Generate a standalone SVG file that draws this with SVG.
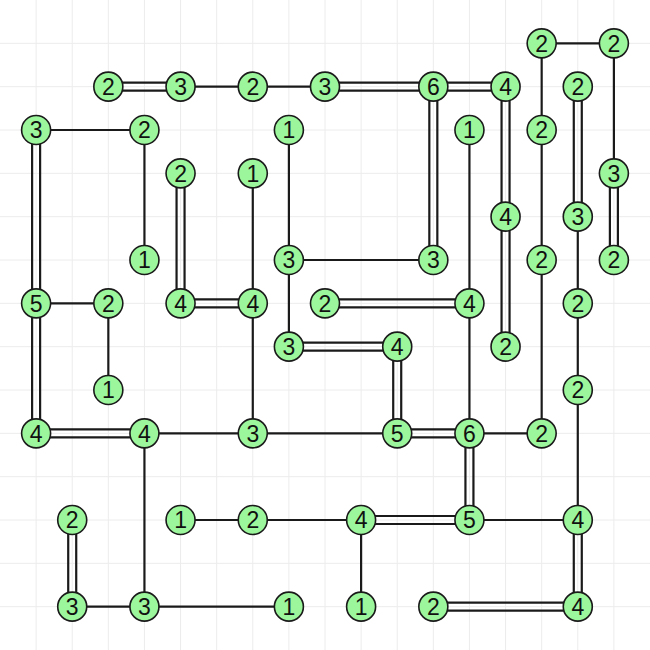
<svg xmlns="http://www.w3.org/2000/svg" width="650" height="650" viewBox="0 0 650 650">
<style>
.grid{stroke:#ececec;stroke-width:1;fill:none}
.b{stroke:#1a1a1a;stroke-width:2.2;fill:none}
.node circle{fill:#9cf79c;stroke:#1a1a1a;stroke-width:1.6}
.node text{font-family:"Liberation Sans",Arial,sans-serif;font-size:23px;fill:#111;text-anchor:middle}
</style>
<rect width="650" height="650" fill="#fff"/>
<path class="grid" d="M36.11 0V650M72.22 0V650M108.33 0V650M144.44 0V650M180.56 0V650M216.67 0V650M252.78 0V650M288.89 0V650M325 0V650M361.11 0V650M397.22 0V650M433.33 0V650M469.44 0V650M505.56 0V650M541.67 0V650M577.78 0V650M613.89 0V650M0 43.33H650M0 86.67H650M0 130H650M0 173.33H650M0 216.67H650M0 260H650M0 303.33H650M0 346.67H650M0 390H650M0 433.33H650M0 476.67H650M0 520H650M0 563.33H650M0 606.67H650"/>
<g id="connectors" class="b">
<path d="M541.67 43.33H613.89"/>
<path d="M36.11 130H144.44"/>
<path d="M108.33 82.67H180.56M108.33 90.67H180.56"/>
<path d="M180.56 86.67H252.78"/>
<path d="M252.78 86.67H325"/>
<path d="M325 82.67H433.33M325 90.67H433.33"/>
<path d="M433.33 82.67H505.56M433.33 90.67H505.56"/>
<path d="M288.89 260H433.33"/>
<path d="M180.56 299.33H252.78M180.56 307.33H252.78"/>
<path d="M36.11 303.33H108.33"/>
<path d="M325 299.33H469.44M325 307.33H469.44"/>
<path d="M288.89 342.67H397.22M288.89 350.67H397.22"/>
<path d="M36.11 429.33H144.44M36.11 437.33H144.44"/>
<path d="M144.44 433.33H252.78"/>
<path d="M252.78 433.33H397.22"/>
<path d="M397.22 429.33H469.44M397.22 437.33H469.44"/>
<path d="M469.44 433.33H541.67"/>
<path d="M180.56 520H252.78"/>
<path d="M252.78 520H361.11"/>
<path d="M361.11 516H469.44M361.11 524H469.44"/>
<path d="M469.44 520H577.78"/>
<path d="M72.22 606.67H144.44"/>
<path d="M144.44 606.67H288.89"/>
<path d="M433.33 602.67H577.78M433.33 610.67H577.78"/>
<path d="M541.67 43.33V130"/>
<path d="M541.67 130V260"/>
<path d="M541.67 260V433.33"/>
<path d="M613.89 43.33V173.33"/>
<path d="M609.89 173.33V260M617.89 173.33V260"/>
<path d="M429.33 86.67V260M437.33 86.67V260"/>
<path d="M501.56 86.67V216.67M509.56 86.67V216.67"/>
<path d="M501.56 216.67V346.67M509.56 216.67V346.67"/>
<path d="M573.78 86.67V216.67M581.78 86.67V216.67"/>
<path d="M577.78 216.67V303.33"/>
<path d="M577.78 303.33V390"/>
<path d="M577.78 390V520"/>
<path d="M573.78 520V606.67M581.78 520V606.67"/>
<path d="M32.11 130V303.33M40.11 130V303.33"/>
<path d="M32.11 303.33V433.33M40.11 303.33V433.33"/>
<path d="M144.44 130V260"/>
<path d="M176.56 173.33V303.33M184.56 173.33V303.33"/>
<path d="M252.78 173.33V303.33"/>
<path d="M252.78 303.33V433.33"/>
<path d="M288.89 130V260"/>
<path d="M288.89 260V346.67"/>
<path d="M469.44 130V303.33"/>
<path d="M469.44 303.33V433.33"/>
<path d="M393.22 346.67V433.33M401.22 346.67V433.33"/>
<path d="M465.44 433.33V520M473.44 433.33V520"/>
<path d="M108.33 303.33V390"/>
<path d="M144.44 433.33V606.67"/>
<path d="M68.22 520V606.67M76.22 520V606.67"/>
<path d="M361.11 520V606.67"/>
</g>
<g id="nodes">
<g id="n15-1" class="node" transform="translate(541.67,43.33)"><circle r="14.5"/><text y="8.2">2</text></g>
<g id="n17-1" class="node" transform="translate(613.89,43.33)"><circle r="14.5"/><text y="8.2">2</text></g>
<g id="n3-2" class="node" transform="translate(108.33,86.67)"><circle r="14.5"/><text y="8.2">2</text></g>
<g id="n5-2" class="node" transform="translate(180.56,86.67)"><circle r="14.5"/><text y="8.2">3</text></g>
<g id="n7-2" class="node" transform="translate(252.78,86.67)"><circle r="14.5"/><text y="8.2">2</text></g>
<g id="n9-2" class="node" transform="translate(325,86.67)"><circle r="14.5"/><text y="8.2">3</text></g>
<g id="n12-2" class="node" transform="translate(433.33,86.67)"><circle r="14.5"/><text y="8.2">6</text></g>
<g id="n14-2" class="node" transform="translate(505.56,86.67)"><circle r="14.5"/><text y="8.2">4</text></g>
<g id="n16-2" class="node" transform="translate(577.78,86.67)"><circle r="14.5"/><text y="8.2">2</text></g>
<g id="n1-3" class="node" transform="translate(36.11,130)"><circle r="14.5"/><text y="8.2">3</text></g>
<g id="n4-3" class="node" transform="translate(144.44,130)"><circle r="14.5"/><text y="8.2">2</text></g>
<g id="n8-3" class="node" transform="translate(288.89,130)"><circle r="14.5"/><text y="8.2">1</text></g>
<g id="n13-3" class="node" transform="translate(469.44,130)"><circle r="14.5"/><text y="8.2">1</text></g>
<g id="n15-3" class="node" transform="translate(541.67,130)"><circle r="14.5"/><text y="8.2">2</text></g>
<g id="n5-4" class="node" transform="translate(180.56,173.33)"><circle r="14.5"/><text y="8.2">2</text></g>
<g id="n7-4" class="node" transform="translate(252.78,173.33)"><circle r="14.5"/><text y="8.2">1</text></g>
<g id="n17-4" class="node" transform="translate(613.89,173.33)"><circle r="14.5"/><text y="8.2">3</text></g>
<g id="n14-5" class="node" transform="translate(505.56,216.67)"><circle r="14.5"/><text y="8.2">4</text></g>
<g id="n16-5" class="node" transform="translate(577.78,216.67)"><circle r="14.5"/><text y="8.2">3</text></g>
<g id="n4-6" class="node" transform="translate(144.44,260)"><circle r="14.5"/><text y="8.2">1</text></g>
<g id="n8-6" class="node" transform="translate(288.89,260)"><circle r="14.5"/><text y="8.2">3</text></g>
<g id="n12-6" class="node" transform="translate(433.33,260)"><circle r="14.5"/><text y="8.2">3</text></g>
<g id="n15-6" class="node" transform="translate(541.67,260)"><circle r="14.5"/><text y="8.2">2</text></g>
<g id="n17-6" class="node" transform="translate(613.89,260)"><circle r="14.5"/><text y="8.2">2</text></g>
<g id="n1-7" class="node" transform="translate(36.11,303.33)"><circle r="14.5"/><text y="8.2">5</text></g>
<g id="n3-7" class="node" transform="translate(108.33,303.33)"><circle r="14.5"/><text y="8.2">2</text></g>
<g id="n5-7" class="node" transform="translate(180.56,303.33)"><circle r="14.5"/><text y="8.2">4</text></g>
<g id="n7-7" class="node" transform="translate(252.78,303.33)"><circle r="14.5"/><text y="8.2">4</text></g>
<g id="n9-7" class="node" transform="translate(325,303.33)"><circle r="14.5"/><text y="8.2">2</text></g>
<g id="n13-7" class="node" transform="translate(469.44,303.33)"><circle r="14.5"/><text y="8.2">4</text></g>
<g id="n16-7" class="node" transform="translate(577.78,303.33)"><circle r="14.5"/><text y="8.2">2</text></g>
<g id="n8-8" class="node" transform="translate(288.89,346.67)"><circle r="14.5"/><text y="8.2">3</text></g>
<g id="n11-8" class="node" transform="translate(397.22,346.67)"><circle r="14.5"/><text y="8.2">4</text></g>
<g id="n14-8" class="node" transform="translate(505.56,346.67)"><circle r="14.5"/><text y="8.2">2</text></g>
<g id="n3-9" class="node" transform="translate(108.33,390)"><circle r="14.5"/><text y="8.2">1</text></g>
<g id="n16-9" class="node" transform="translate(577.78,390)"><circle r="14.5"/><text y="8.2">2</text></g>
<g id="n1-10" class="node" transform="translate(36.11,433.33)"><circle r="14.5"/><text y="8.2">4</text></g>
<g id="n4-10" class="node" transform="translate(144.44,433.33)"><circle r="14.5"/><text y="8.2">4</text></g>
<g id="n7-10" class="node" transform="translate(252.78,433.33)"><circle r="14.5"/><text y="8.2">3</text></g>
<g id="n11-10" class="node" transform="translate(397.22,433.33)"><circle r="14.5"/><text y="8.2">5</text></g>
<g id="n13-10" class="node" transform="translate(469.44,433.33)"><circle r="14.5"/><text y="8.2">6</text></g>
<g id="n15-10" class="node" transform="translate(541.67,433.33)"><circle r="14.5"/><text y="8.2">2</text></g>
<g id="n2-12" class="node" transform="translate(72.22,520)"><circle r="14.5"/><text y="8.2">2</text></g>
<g id="n5-12" class="node" transform="translate(180.56,520)"><circle r="14.5"/><text y="8.2">1</text></g>
<g id="n7-12" class="node" transform="translate(252.78,520)"><circle r="14.5"/><text y="8.2">2</text></g>
<g id="n10-12" class="node" transform="translate(361.11,520)"><circle r="14.5"/><text y="8.2">4</text></g>
<g id="n13-12" class="node" transform="translate(469.44,520)"><circle r="14.5"/><text y="8.2">5</text></g>
<g id="n16-12" class="node" transform="translate(577.78,520)"><circle r="14.5"/><text y="8.2">4</text></g>
<g id="n2-14" class="node" transform="translate(72.22,606.67)"><circle r="14.5"/><text y="8.2">3</text></g>
<g id="n4-14" class="node" transform="translate(144.44,606.67)"><circle r="14.5"/><text y="8.2">3</text></g>
<g id="n8-14" class="node" transform="translate(288.89,606.67)"><circle r="14.5"/><text y="8.2">1</text></g>
<g id="n10-14" class="node" transform="translate(361.11,606.67)"><circle r="14.5"/><text y="8.2">1</text></g>
<g id="n12-14" class="node" transform="translate(433.33,606.67)"><circle r="14.5"/><text y="8.2">2</text></g>
<g id="n16-14" class="node" transform="translate(577.78,606.67)"><circle r="14.5"/><text y="8.2">4</text></g>
</g>
</svg>
